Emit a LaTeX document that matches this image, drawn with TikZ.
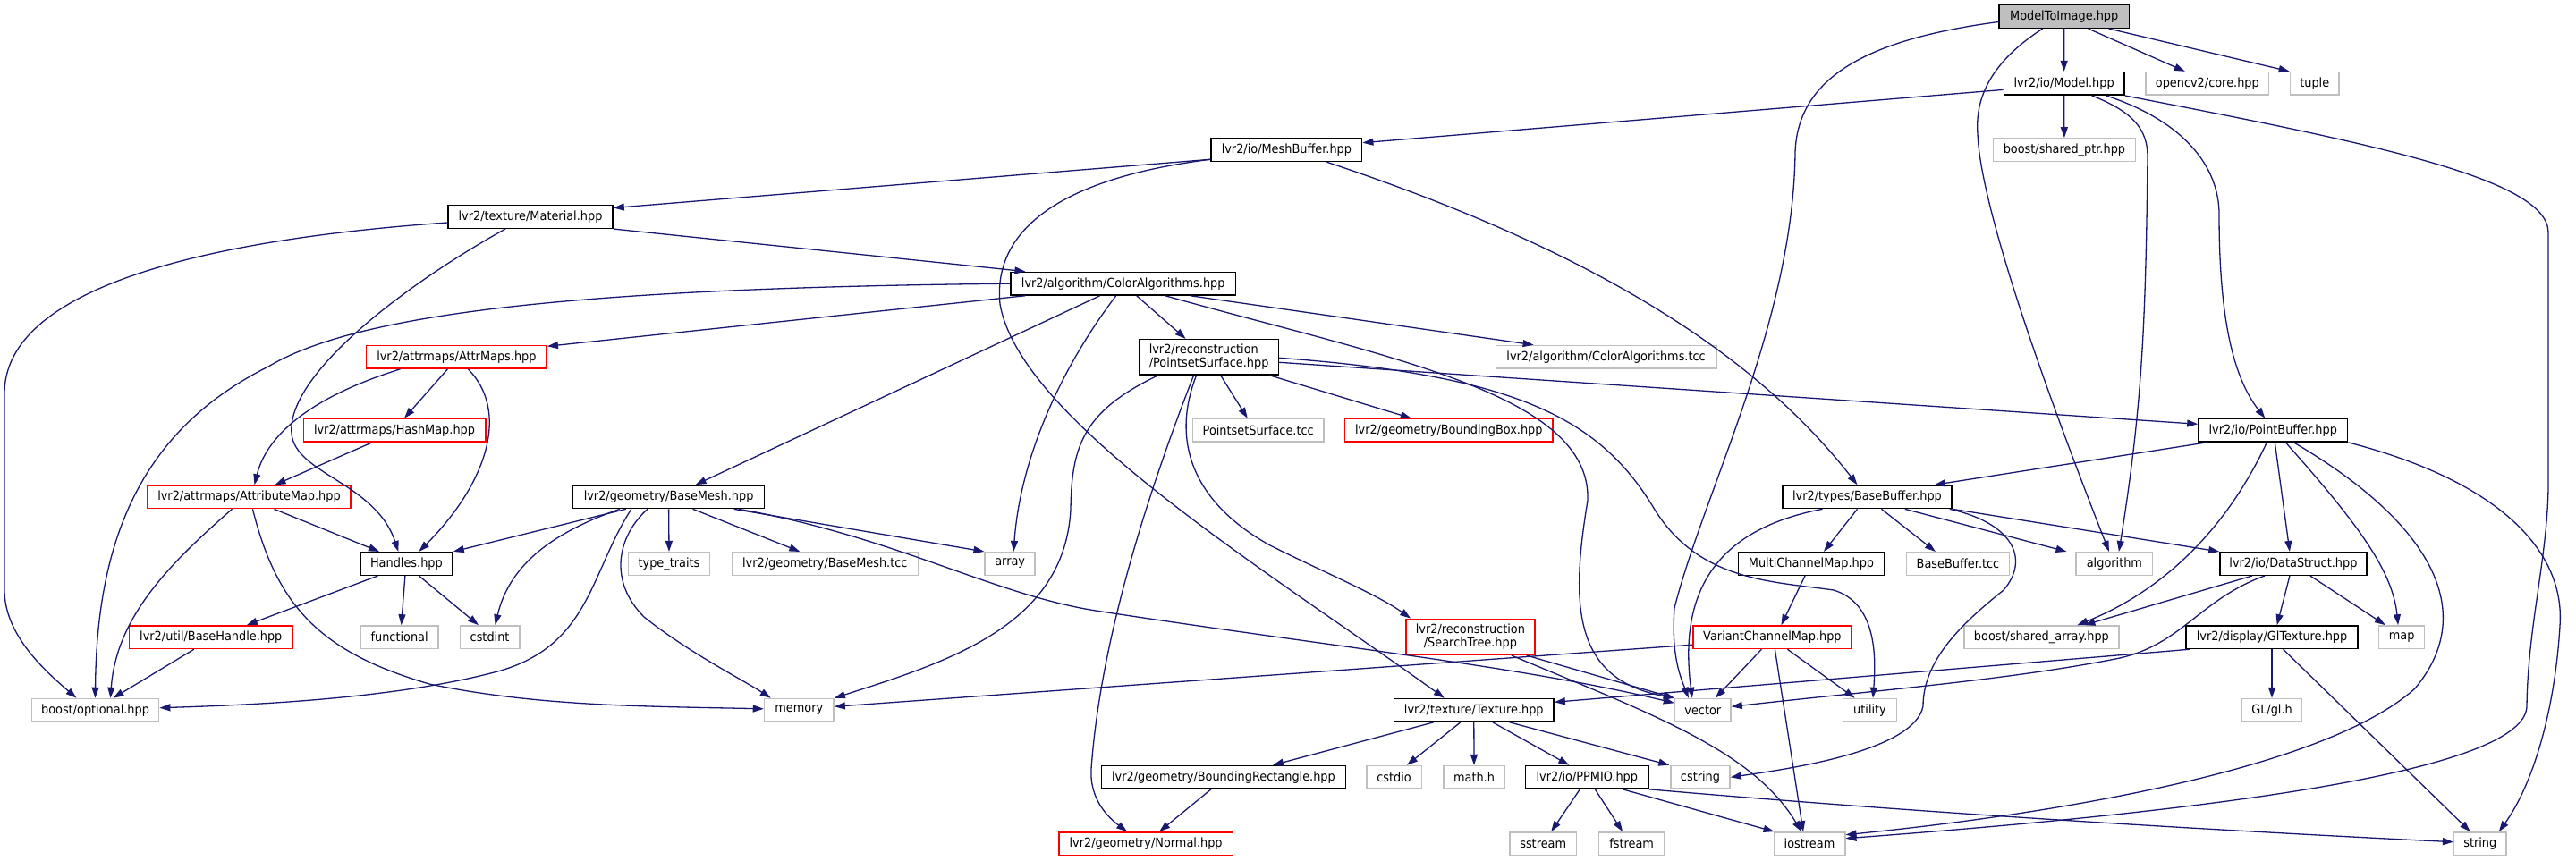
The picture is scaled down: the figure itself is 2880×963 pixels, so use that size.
\documentclass[tikz,border=0pt]{standalone}
\usepackage{fontspec}
\setmainfont{DejaVu Sans}[FakeStretch=0.92]
\usetikzlibrary{arrows.meta}
\definecolor{edgec}{HTML}{191970}
\definecolor{grayb}{HTML}{BFBFBF}
\definecolor{redb}{HTML}{FF0000}
\begin{document}
\begin{tikzpicture}[x=1pt,y=-1pt,
 box/.style={draw=black,line width=1.5pt,fill=white,minimum height=25.6pt,inner sep=0pt,font=\fontsize{14}{15}\selectfont,text=black},
 ext/.style={box,draw=grayb},
 trunc/.style={box,draw=redb},
 root/.style={box,fill=grayb},
 dep/.style={draw=edgec,line width=1.3pt,-{Triangle[length=12pt,width=8pt]}}
]
\fill[white] (0,0) rectangle (2880,963);
\useasboundingbox (0,0) rectangle (2880,963);

% nodes
\node[root,minimum width=145.5pt] (n0) at (2307.7,18.5) {ModelToImage.hpp};
\node[box,minimum width=134.5pt] (model) at (2307.6,93.4) {lvr2/io/Model.hpp};
\node[ext,minimum width=137.3pt] (opencv) at (2467.8,93.4) {opencv2/core.hpp};
\node[ext,minimum width=54.6pt] (tuple) at (2587.7,93.4) {tuple};
\node[ext,minimum width=158.9pt] (sharedptr) at (2307.9,167.7) {boost/shared\_ptr.hpp};
\node[box,minimum width=168.5pt] (meshbuf) at (1438.4,167.7) {lvr2/io/MeshBuffer.hpp};
\node[box,minimum width=184.1pt] (material) at (593,242.5) {lvr2/texture/Material.hpp};
\node[box,minimum width=251.1pt] (coloralg) at (1255.7,317.2) {lvr2/algorithm/ColorAlgorithms.hpp};
\node[trunc,minimum width=201.6pt] (attrmaps) at (510.4,399.3) {lvr2/attrmaps/AttrMaps.hpp};
\node[trunc,minimum width=203.5pt] (hashmap) at (441,481.3) {lvr2/attrmaps/HashMap.hpp};
\node[trunc,minimum width=227.3pt] (attrmap) at (278.5,555.8) {lvr2/attrmaps/AttributeMap.hpp};
\node[box,minimum width=103.3pt] (handles) at (454.4,630.5) {Handles.hpp};
\node[box,minimum width=213.9pt] (basemesh) at (747.6,555.8) {lvr2/geometry/BaseMesh.hpp};
\node[ext,minimum width=90.9pt] (typetraits) at (748,630.5) {type\_traits};
\node[ext,minimum width=208pt] (basemeshtcc) at (922.3,630.5) {lvr2/geometry/BaseMesh.tcc};
\node[ext,minimum width=56pt] (array) at (1129.2,630.5) {array};
\node[box,minimum width=155.7pt,minimum height=39.3pt,align=left] (pss) at (1351.6,399.3) {lvr2/reconstruction\\/PointsetSurface.hpp};
\node[ext,minimum width=146.5pt] (psstcc) at (1406.7,481.3) {PointsetSurface.tcc};
\node[trunc,minimum width=232.8pt] (bbox) at (1619.8,481.3) {lvr2/geometry/BoundingBox.hpp};
\node[ext,minimum width=246.6pt] (coloralgtcc) at (1795.6,399.3) {lvr2/algorithm/ColorAlgorithms.tcc};
\node[box,minimum width=189pt] (basebuf) at (2087.5,555.8) {lvr2/types/BaseBuffer.hpp};
\node[box,minimum width=163.5pt] (multich) at (2025,630.5) {MultiChannelMap.hpp};
\node[ext,minimum width=114.7pt] (basebuftcc) at (2189,630.5) {BaseBuffer.tcc};
\node[ext,minimum width=85.4pt] (algorithm) at (2363.9,630.5) {algorithm};
\node[box,minimum width=163.9pt] (datastruct) at (2563.9,630.5) {lvr2/io/DataStruct.hpp};
\node[box,minimum width=166.7pt] (pointbuf) at (2541.3,481.3) {lvr2/io/PointBuffer.hpp};
\node[trunc,minimum width=182.3pt] (basehandle) at (235.8,712.7) {lvr2/util/BaseHandle.hpp};
\node[ext,minimum width=86.8pt] (functional) at (446.6,712.7) {functional};
\node[ext,minimum width=66.6pt] (cstdint) at (547.6,712.7) {cstdint};
\node[ext,minimum width=142.3pt] (optional) at (106.5,794.3) {boost/optional.hpp};
\node[ext,minimum width=77.6pt] (memory) at (893.3,794.3) {memory};
\node[box,minimum width=272.8pt] (brect) at (1367.9,869.3) {lvr2/geometry/BoundingRectangle.hpp};
\node[trunc,minimum width=194.7pt] (normal) at (1281.1,943.7) {lvr2/geometry/Normal.hpp};
\node[trunc,minimum width=144.2pt,minimum height=40pt,align=center] (searchtree) at (1643.9,712.3) {lvr2/reconstruction\\/SearchTree.hpp};
\node[trunc,minimum width=177.2pt] (variant) at (1981.4,712.7) {VariantChannelMap.hpp};
\node[box,minimum width=178.6pt] (texture) at (1647.8,794.3) {lvr2/texture/Texture.hpp};
\node[ext,minimum width=62.5pt] (vector) at (1903.8,794.3) {vector};
\node[ext,minimum width=60.2pt] (utility) at (2090.5,794.3) {utility};
\node[ext,minimum width=61.5pt] (cstdio) at (1558.5,869.3) {cstdio};
\node[ext,minimum width=68pt] (mathh) at (1648,869.3) {math.h};
\node[box,minimum width=137.8pt] (ppmio) at (1774.3,869.3) {lvr2/io/PPMIO.hpp};
\node[ext,minimum width=66.1pt] (cstring) at (1901,869.3) {cstring};
\node[ext,minimum width=74.4pt] (sstream) at (1725.2,943.7) {sstream};
\node[ext,minimum width=73pt] (fstream) at (1824.1,943.7) {fstream};
\node[ext,minimum width=79.5pt] (iostream) at (2023,943.7) {iostream};
\node[ext,minimum width=173.1pt] (sharedarray) at (2282.4,712.7) {boost/shared\_array.hpp};
\node[box,minimum width=192.4pt] (gltexture) at (2540,712.7) {lvr2/display/GlTexture.hpp};
\node[ext,minimum width=51pt] (map) at (2685.1,712.7) {map};
\node[ext,minimum width=66.6pt] (glh) at (2540,794.3) {GL/gl.h};
\node[ext,minimum width=58.3pt] (string) at (2772.8,943.7) {string};

% edges
\draw[dep] (n0.south) -- (model.north);
\draw[dep] ([xshift=27pt]n0.south) -- ([xshift=-25pt]opencv.north);
\draw[dep] ([xshift=50pt]n0.south) -- (tuple.north west);
\draw[dep] ([xshift=-24pt]n0.south) .. controls (2225,70) and (2208,110) .. (2211,150) .. controls (2215,250) and (2320,520) .. ([xshift=-6pt]algorithm.north);
\draw[dep] ([yshift=-6pt]n0.west) .. controls (2080,45) and (2010,90) .. (2007,170) .. controls (2005,360) and (1905,550) .. (1872,680) .. controls (1868,735) and (1880,760) .. ([xshift=-16pt]vector.north);

\draw[dep] ([yshift=-7pt]model.west) -- ([yshift=8pt]meshbuf.east);
\draw[dep] (model.south) -- (sharedptr.north);
\draw[dep] ([xshift=31pt]model.south) .. controls (2385,125) and (2401,145) .. (2401,175) .. controls (2399,350) and (2396,450) .. ([xshift=5pt]algorithm.north);
\draw[dep] ([xshift=47pt]model.south) .. controls (2440,135) and (2481,185) .. (2481,240) .. controls (2481,350) and (2495,420) .. ([xshift=-9pt]pointbuf.north);
\draw[dep] (model.south east) .. controls (2650,160) and (2849,200) .. (2849,260) -- (2849,540) .. controls (2849,620) and (2826,700) .. (2825,790) .. controls (2823,860) and (2500,905) .. ([yshift=6pt]iostream.east);

\draw[dep] ([yshift=3pt]meshbuf.south west) -- ([yshift=10pt]material.east);
\draw[dep] ([yshift=3pt]meshbuf.south west) .. controls (1180,200) and (1110,260) .. (1118,340) .. controls (1140,470) and (1420,640) .. ([xshift=-33pt]texture.north);
\draw[dep] ([xshift=45pt]meshbuf.south) .. controls (1750,270) and (1950,380) .. ([xshift=-11pt]basebuf.north);

\draw[dep] ([yshift=-6.5pt]material.west) .. controls (200,270) and (5,330) .. (5,440) -- (5,660) .. controls (5,710) and (50,750) .. ([xshift=-21pt]optional.north);
\draw[dep] ([xshift=-28pt]material.south) .. controls (450,320) and (320,420) .. (326,485) .. controls (330,530) and (420,540) .. ([xshift=-9pt]handles.north);
\draw[dep] (material.south east) -- ([xshift=17pt]coloralg.north west);

\draw[dep] (coloralg.west) .. controls (650,322) and (400,350) .. (300,410) .. controls (160,480) and (108,600) .. (optional.north);
\draw[dep] ([xshift=17pt]coloralg.south west) -- ([yshift=12pt]attrmaps.east);
\draw[dep] ([xshift=-26pt]coloralg.south) -- ([xshift=30pt]basemesh.north);
\draw[dep] ([xshift=-8pt]coloralg.south) .. controls (1180,420) and (1140,520) .. ([xshift=4pt]array.north);
\draw[dep] ([xshift=15pt]coloralg.south) -- ([xshift=-26pt]pss.north);
\draw[dep] ([xshift=47pt]coloralg.south) .. controls (1550,400) and (1780,440) .. (1775,560) .. controls (1755,680) and (1760,760) .. (vector.north west);
\draw[dep] ([xshift=75pt]coloralg.south) -- ([xshift=43pt]coloralgtcc.north west);

\draw[dep] ([xshift=-63pt]attrmaps.south) .. controls (360,440) and (300,480) .. ([xshift=6pt]attrmap.north);
\draw[dep] ([xshift=-10pt]attrmaps.south) -- ([xshift=11pt]hashmap.north);
\draw[dep] ([xshift=13pt]attrmaps.south) .. controls (570,460) and (545,540) .. ([xshift=14pt]handles.north);
\draw[dep] ([xshift=-25pt]hashmap.south) -- ([xshift=29pt]attrmap.north);
\draw[dep] ([xshift=28pt]attrmap.south) -- ([xshift=22pt]handles.north west);
\draw[dep] ([xshift=-19pt]attrmap.south) .. controls (190,630) and (130,690) .. ([xshift=17pt]optional.north);
\draw[dep] ([xshift=4pt]attrmap.south) .. controls (310,680) and (360,730) .. (480,765) .. controls (600,790) and (720,790) .. ([yshift=1.5pt]memory.west);

\draw[dep] ([xshift=-32pt]handles.south) -- ([xshift=40pt]basehandle.north);
\draw[dep] ([xshift=-1.5pt]handles.south) -- ([xshift=2pt]functional.north);
\draw[dep] ([xshift=14pt]handles.south) -- ([xshift=-12.6pt]cstdint.north);
\draw[dep] ([xshift=-19pt]basehandle.south) -- ([xshift=20pt]optional.north);

\draw[dep] ([xshift=60pt]basemesh.south west) -- (handles.north east);
\draw[dep] (basemesh.south) -- (typetraits.north);
\draw[dep] ([xshift=27pt]basemesh.south) -- ([xshift=-28pt]basemeshtcc.north);
\draw[dep] ([xshift=73pt]basemesh.south) -- (array.north west);
\draw[dep] ([xshift=78pt]basemesh.south) .. controls (1000,600) and (1110,665) .. (1225,683) .. controls (1500,725) and (1700,745) .. ([yshift=8pt]vector.west);
\draw[dep] ([xshift=53pt]basemesh.south west) .. controls (620,595) and (570,630) .. ([xshift=6pt]cstdint.north);
\draw[dep] ([xshift=66pt]basemesh.south west) .. controls (660,640) and (660,720) .. (560,750) .. controls (450,780) and (300,788) .. ([yshift=2.6pt]optional.east);
\draw[dep] ([xshift=84pt]basemesh.south west) .. controls (690,600) and (680,650) .. (720,690) .. controls (770,730) and (830,760) .. ([xshift=8pt]memory.north west);

\draw[dep] ([xshift=22pt]pss.south west) .. controls (1210,460) and (1198,500) .. (1197,570) .. controls (1190,700) and (1060,740) .. (memory.north east);
\draw[dep] ([xshift=13pt]pss.south) -- ([xshift=-12pt]psstcc.north);
\draw[dep] ([xshift=-11pt]pss.south east) -- ([xshift=-42pt]bbox.north);
\draw[dep] ([xshift=-14pt]pss.south) .. controls (1310,490) and (1330,560) .. (1420,610) .. controls (1480,640) and (1540,665) .. ([xshift=6pt]searchtree.north west);
\draw[dep] ([xshift=-17pt]pss.south) .. controls (1280,560) and (1230,720) .. (1220,860) .. controls (1218,895) and (1240,915) .. ([xshift=-21pt]normal.north);
\draw[dep] ([yshift=-6pt]pss.east) -- ([yshift=7pt]pointbuf.west);
\draw[dep] ([yshift=-1pt]pss.east) .. controls (1700,420) and (1790,470) .. (1850,570) .. controls (1900,650) and (1980,650) .. (2050,660) .. controls (2100,675) and (2097,740) .. ([xshift=3.5pt]utility.north);

\draw[dep] ([xshift=-10pt]searchtree.south east) -- (vector.north west);
\draw[dep] ([xshift=46pt]searchtree.south) .. controls (1850,800) and (1960,840) .. ([xshift=-9pt]iostream.north);

\draw[dep] ([xshift=-45pt]texture.south) -- ([xshift=-82pt]brect.north east);
\draw[dep] ([xshift=-15pt]texture.south) -- ([xshift=14.5pt]cstdio.north);
\draw[dep] (texture.south) -- (mathh.north);
\draw[dep] ([xshift=21pt]texture.south) -- ([xshift=-20pt]ppmio.north);
\draw[dep] ([xshift=40pt]texture.south) -- ([xshift=-1pt]cstring.north west);

\draw[dep] ([xshift=-8pt]ppmio.south) -- ([xshift=9pt]sstream.north);
\draw[dep] ([xshift=9pt]ppmio.south) -- ([xshift=-10pt]fstream.north);
\draw[dep] ([xshift=40pt]ppmio.south) -- ([xshift=1pt]iostream.north west);
\draw[dep] (ppmio.south east) .. controls (2100,905) and (2400,925) .. ([yshift=2pt]string.west);

\draw[dep] ([xshift=-14pt]brect.south) -- ([xshift=15pt]normal.north);

\draw[dep] ([xshift=-7pt]multich.south) -- ([xshift=10pt]variant.north);
\draw[dep] ([xshift=-12pt]variant.south) -- ([xshift=14pt]vector.north);
\draw[dep] ([xshift=3pt]variant.south) -- ([xshift=-7pt]iostream.north);
\draw[dep] ([xshift=17pt]variant.south) -- ([xshift=14pt]utility.north west);
\draw[dep] ([yshift=-8.5pt]variant.west) -- ([yshift=4pt]memory.east);

\draw[dep] ([xshift=-11pt]basebuf.south) -- ([xshift=14pt]multich.north);
\draw[dep] ([xshift=16pt]basebuf.south) -- ([xshift=33pt]basebuftcc.north west);
\draw[dep] ([xshift=-53pt]basebuf.south east) -- ([xshift=-10pt]algorithm.north west);
\draw[dep] (basebuf.south east) -- (datastruct.north west);
\draw[dep] ([xshift=-50pt]basebuf.south) .. controls (1930,590) and (1875,650) .. ([xshift=-12pt]vector.north);
\draw[dep] ([xshift=-3pt]basebuf.south east) .. controls (2250,585) and (2270,625) .. (2240,660) .. controls (2190,700) and (2150,740) .. (2150,790) .. controls (2140,840) and (2000,860) .. (cstring.east);

\draw[dep] ([xshift=10pt]pointbuf.south west) -- ([xshift=-20pt]basebuf.north east);
\draw[dep] ([xshift=2pt]pointbuf.south) -- ([xshift=-4pt]datastruct.north);
\draw[dep] ([xshift=-7pt]pointbuf.south) .. controls (2490,590) and (2420,660) .. ([xshift=40pt]sharedarray.north);
\draw[dep] ([xshift=14pt]pointbuf.south) .. controls (2640,590) and (2675,640) .. ([xshift=-4pt]map.north);
\draw[dep] ([xshift=23pt]pointbuf.south) .. controls (2710,580) and (2775,680) .. (2700,770) .. controls (2600,860) and (2300,910) .. ([yshift=10pt]iostream.east);
\draw[dep] (pointbuf.south east) .. controls (2800,540) and (2868,620) .. (2862,700) .. controls (2856,800) and (2830,880) .. ([xshift=21pt]string.north);

\draw[dep] ([xshift=-46pt]datastruct.south) -- ([xshift=48pt]sharedarray.north);
\draw[dep] ([xshift=-4pt]datastruct.south) -- ([xshift=5.7pt]gltexture.north);
\draw[dep] ([xshift=19pt]datastruct.south) -- ([xshift=8pt]map.north west);
\draw[dep] ([xshift=-32pt]datastruct.south) .. controls (2460,670) and (2440,720) .. (2370,736) .. controls (2250,760) and (2100,772) .. ([yshift=4pt]vector.east);

\draw[dep] ([xshift=5pt]gltexture.south west) -- ([yshift=9pt]texture.east);
\draw[dep] (gltexture.south) -- (glh.north);
\draw[dep] ([xshift=12.6pt]gltexture.south) -- ([xshift=-11pt]string.north);
\end{tikzpicture}
\end{document}
